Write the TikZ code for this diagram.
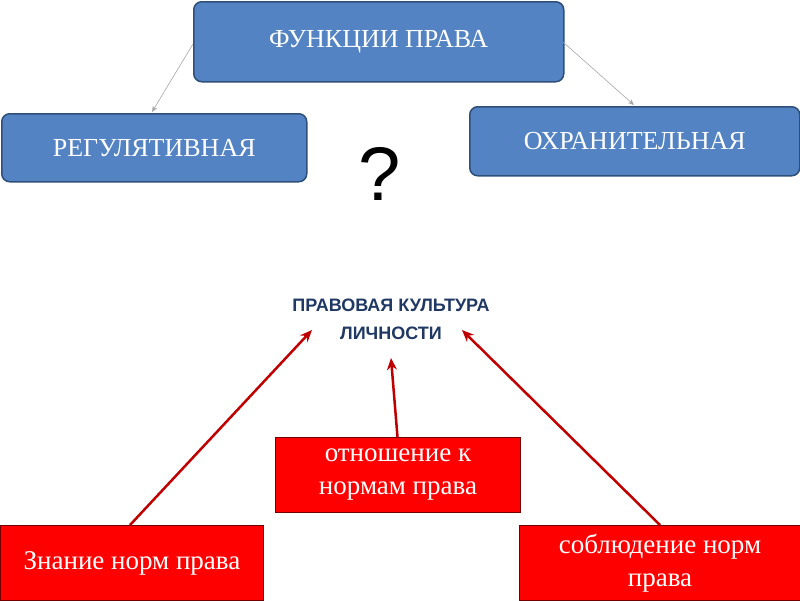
\documentclass[tikz,border=0pt]{standalone}
\usepackage{fontspec}
\setmainfont{Liberation Serif}
\newfontfamily\sansf{Liberation Sans}
\usetikzlibrary{arrows.meta}
\definecolor{bluef}{HTML}{5383C3}
\definecolor{blued}{HTML}{2F4F7A}
\definecolor{navy}{HTML}{1F3864}
\definecolor{darkred}{HTML}{C00000}
\tikzset{
 bbox/.style={draw=blued,line width=1.5pt,fill=bluef,rounded corners=8pt,text=white,font=\fontsize{26}{30}\selectfont,anchor=north west,inner sep=0pt},
 rbox/.style={draw=darkred!60!black,line width=1pt,fill=red,text=white,font=\fontsize{27}{33}\selectfont,anchor=north west,inner sep=0pt,align=center},
 thin/.style={draw=gray!70,line width=0.6pt,-{Stealth[length=6pt,width=5pt]}},
 red/.style={draw=darkred,line width=2.5pt,-{Stealth[length=12pt,width=10pt]}}
}
\begin{document}
\begin{tikzpicture}[x=1pt,y=-1pt]
\useasboundingbox (0,0) rectangle (800,600);
\node[bbox,minimum width=370pt,minimum height=80pt] (f) at (193,1) {ФУНКЦИИ ПРАВА};
\node[bbox,minimum width=305pt,minimum height=68pt] (r) at (1,113) {РЕГУЛЯТИВНАЯ};
\node[bbox,minimum width=330pt,minimum height=69pt] (o) at (469,106) {ОХРАНИТЕЛЬНАЯ};
\node[font=\sansf\fontsize{76}{80}\selectfont] (q) at (380,174) {?};
\coordinate (f1) at (193,44); \coordinate (f2) at (563,42);
\draw[thin] (f1) -- (152,112);
\draw[thin] (f2) -- (634,105);
\node[font=\sansf\bfseries\fontsize{18}{28}\selectfont,text=navy,align=center] (k) at (391,319) {ПРАВОВАЯ КУЛЬТУРА\\ЛИЧНОСТИ};
\node[rbox,minimum width=245pt,minimum height=75pt] (b1) at (275,437) {отношение к\\нормам права};
\node[rbox,minimum width=263pt,minimum height=75pt] (b2) at (0,525) {Знание норм права};
\node[rbox,minimum width=281pt,minimum height=75pt] (b3) at (519,525) {соблюдение норм\\права};
\coordinate (k1) at (312,330); \coordinate (k2) at (391,358); \coordinate (k3) at (462,330);
\draw[red] (130,525) -- (k1);
\draw[red] (b1.north) ++(-0.5,0) -- (k2);
\draw[red] (660,525) -- (k3);
\end{tikzpicture}
\end{document}
